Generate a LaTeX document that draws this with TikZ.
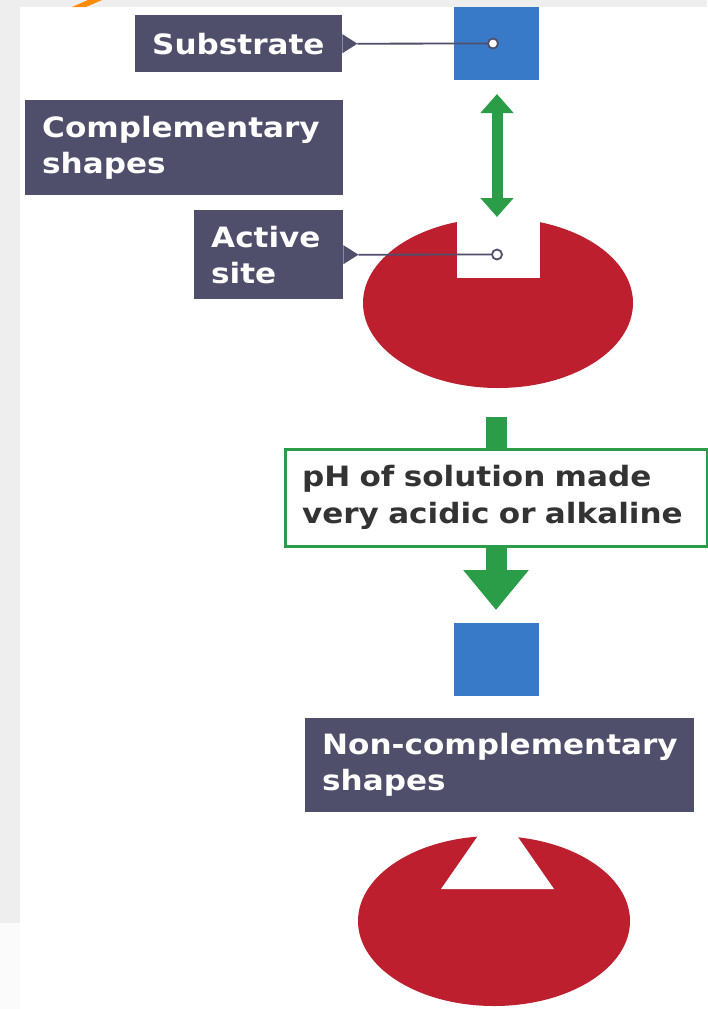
\documentclass[tikz,border=0pt]{standalone}
\usepackage{fontspec}
\usetikzlibrary{arrows.meta,calc}
\newfontfamily\lblfont[FakeStretch=1.11]{DejaVu Sans}
\definecolor{lblfill}{HTML}{4F4E6B}
\definecolor{enzred}{HTML}{BD1F2E}
\definecolor{subblue}{HTML}{3879C8}
\definecolor{arrgreen}{HTML}{2B9C48}
\definecolor{bggray}{HTML}{EEEEEE}
\definecolor{phtext}{HTML}{333333}
\definecolor{markorange}{HTML}{FF8C00}
\tikzset{
  lbl/.style={fill=lblfill, text=white, anchor=north west, inner xsep=17pt, inner ysep=0pt,
    align=left, font=\lblfont\bfseries\fontsize{28}{36}\selectfont},
  phbox/.style={draw=arrgreen, line width=3pt, fill=white, text=phtext, anchor=north west,
    inner xsep=17pt, inner ysep=0pt, align=left, font=\lblfont\bfseries\fontsize{28}{37}\selectfont},
  dot/.style={circle, draw=lblfill, fill=white, line width=1.8pt, minimum size=10pt, inner sep=0pt},
  ptr/.style={draw=lblfill, line width=1.8pt},
  subsq/.style={fill=subblue, draw=none, anchor=north west, minimum width=85pt, minimum height=73pt, inner sep=0pt},
  dblarrow/.style={draw=arrgreen, line width=11pt, {Triangle[width=32pt,length=19pt]}-{Triangle[width=32pt,length=19pt]}},
  bigshaft/.style={draw=arrgreen, line width=21pt},
  bighead/.style={draw=arrgreen, line width=21pt, -{Triangle[width=63pt,length=40pt]}},
  enz/.style={fill=enzred}
}
\begin{document}
\begin{tikzpicture}[x=1pt,y=-1pt]
\useasboundingbox (0,0) rectangle (707,1009);
% background
\fill[bggray] (0,0) rectangle (707,1009);
\fill[white] (20,7) rectangle (707,1009);
\fill[white!97!gray] (0,923) rectangle (20,1009);
\fill[markorange] (72,7) -- (86,7) -- (102,0) -- (88,0) -- cycle;

% top enzyme with rectangular active site
\fill[enz] (498,303) ellipse [x radius=135, y radius=85];
\fill[white] (457,210) rectangle (540,278);

% substrate square
\node[subsq] (sq1) at (454,7) {};

% labels
\node[lbl, text width=173pt, minimum width=207pt, minimum height=57pt] (sub) at (135,15) {Substrate};
\node[lbl, text width=284pt, minimum width=318pt, minimum height=95pt] (comp) at (25,100) {Complementary\\shapes};
\node[lbl, text width=115pt, minimum width=149pt, minimum height=89pt] (act) at (194,210) {Active\\site};

% pointers
\coordinate (subtip) at ($(sub.east)+(15,0)$);
\fill[lblfill] ($(sub.east)+(0,-9.5)$) -- (subtip) -- ($(sub.east)+(0,9.5)$) -- cycle;
\node[dot] (sdot) at (493,43.5) {};
\draw[ptr] (subtip) -- (sdot.west);

\coordinate (acttip) at ($(act.east)+(15,0)$);
\fill[lblfill] ($(act.east)+(0,-9.5)$) -- (acttip) -- ($(act.east)+(0,9.5)$) -- cycle;
\node[dot] (adot) at (497,254.5) {};
\draw[ptr] (acttip) -- (adot.west);

% complementary double arrow
\coordinate (dt) at (497,94);
\coordinate (db) at (497,217);
\draw[dblarrow] (dt) -- (db);

% pH step
\coordinate (bt) at (496,417);
\coordinate (bb) at (496,610);
\node[phbox, text width=388pt, minimum width=421pt, minimum height=97pt] (ph) at (283.5,447.5) {pH of solution made\\very acidic or alkaline};
\draw[bigshaft] (bt) -- (bt |- ph.north);
\draw[bighead] (bt |- ph.south) -- (bb);

% lower substrate
\node[subsq] (sq2) at (454,623) {};
\node[lbl, text width=355pt, minimum width=389pt, minimum height=94pt] (non) at (305,718) {\mbox{Non-complementary}\\shapes};

% denatured enzyme
\fill[enz] (494,921) ellipse [x radius=136, y radius=85];
\fill[white] (441,889) -- (554,889) -- (513,830) -- (482,830) -- cycle;
\end{tikzpicture}
\end{document}
